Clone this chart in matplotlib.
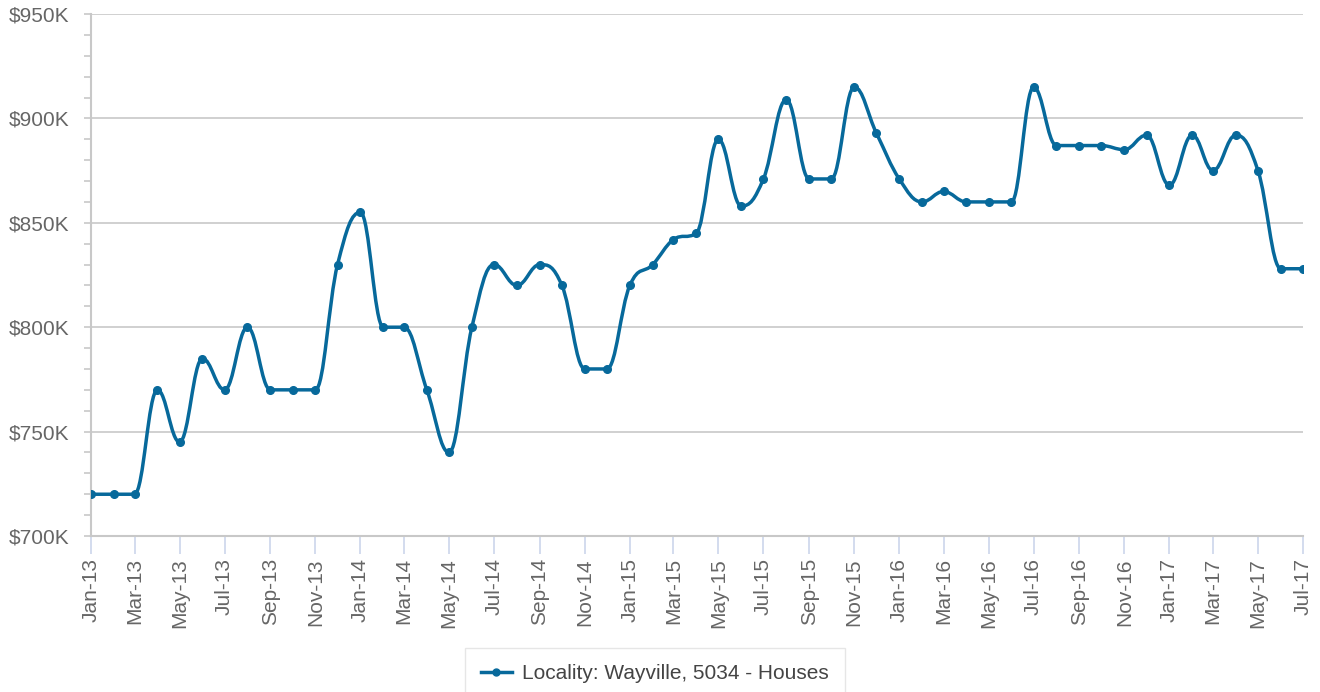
import numpy as np
import matplotlib
matplotlib.use("Agg")
import matplotlib.pyplot as plt
import matplotlib.dates as mdates
from matplotlib.path import Path
from matplotlib.patches import PathPatch
from matplotlib.lines import Line2D
from matplotlib.ticker import FuncFormatter, MultipleLocator
import datetime as dt

# monthly median price, Jan-13 .. Jul-17 (in $K)
start_year, start_month = 2013, 1
prices = [720, 720, 720, 770, 745, 785, 770, 800, 770, 770, 770, 830,
          855, 800, 800, 770, 740, 800, 830, 820, 830, 820, 780, 780,
          820, 830, 842, 845, 890, 858, 871, 909, 871, 871, 915, 893,
          871, 860, 865, 860, 860, 860, 915, 887, 887, 887, 885, 892,
          868, 892, 875, 892, 875, 828, 828]
series_name = "Locality: Wayville, 5034 - Houses"

LINE = "#07699b"
GRID = "#c8c8c8"
TXT = "#666666"
FS = 15


def month_dates(n):
    out = []
    for i in range(n):
        m = start_month - 1 + i
        out.append(dt.date(start_year + m // 12, m % 12 + 1, 1))
    return out


def spline_path(xs, ys, smoothing=1.5):
    # highcharts style spline: cubic bezier with per-point control points
    n = len(xs)
    denom = smoothing + 1
    lc = [None] * n
    rc = [None] * n
    for i in range(1, n - 1):
        px, py = xs[i], ys[i]
        lx, ly = xs[i - 1], ys[i - 1]
        nx, ny = xs[i + 1], ys[i + 1]
        lcx = (smoothing * px + lx) / denom
        lcy = (smoothing * py + ly) / denom
        rcx = (smoothing * px + nx) / denom
        rcy = (smoothing * py + ny) / denom
        corr = 0
        if rcx != lcx:
            corr = (rcy - lcy) * (rcx - px) / (rcx - lcx) + py - rcy
        lcy += corr
        rcy += corr
        if lcy > ly and lcy > py:
            lcy = max(ly, py)
            rcy = 2 * py - lcy
        elif lcy < ly and lcy < py:
            lcy = min(ly, py)
            rcy = 2 * py - lcy
        if rcy > ny and rcy > py:
            rcy = max(ny, py)
            lcy = 2 * py - rcy
        elif rcy < ny and rcy < py:
            rcy = min(ny, py)
            lcy = 2 * py - rcy
        lc[i] = (lcx, lcy)
        rc[i] = (rcx, rcy)
    verts = [(xs[0], ys[0])]
    codes = [Path.MOVETO]
    for i in range(1, n):
        c1 = rc[i - 1] if rc[i - 1] is not None else (xs[i - 1], ys[i - 1])
        c2 = lc[i] if lc[i] is not None else (xs[i], ys[i])
        verts += [c1, c2, (xs[i], ys[i])]
        codes += [Path.CURVE4] * 3
    return Path(verts, codes)


dates = month_dates(len(prices))
xnum = mdates.date2num(dates)

plt.rcParams['font.family'] = ['Liberation Sans', 'DejaVu Sans']

fig = plt.figure(figsize=(13.2, 6.92), dpi=100)
ax = fig.add_axes([91 / 1320, 1 - 536 / 692, (1303 - 91) / 1320, (536 - 14) / 692])

ax.set_xlim(xnum[0], xnum[-1])
ax.set_ylim(700, 950)

# line + markers
patch = PathPatch(spline_path(list(xnum), prices), facecolor="none", edgecolor=LINE,
                  lw=2.5, zorder=3, capstyle="round", joinstyle="round")
ax.add_patch(patch)
ax.plot(xnum, prices, linestyle="none", marker="o", ms=5.5, color=LINE, zorder=4)

# y axis
ax.yaxis.set_major_locator(MultipleLocator(50))
ax.yaxis.set_minor_locator(MultipleLocator(10))
ax.yaxis.set_major_formatter(FuncFormatter(lambda v, p: f"${v:.0f}K"))
ax.grid(axis="y", which="major", color=GRID, lw=1.2)
ax.tick_params(axis="y", which="major", length=5, width=1.2, color=GRID,
               labelsize=FS, labelcolor=TXT, pad=10.5)
ax.tick_params(axis="y", which="minor", length=5, width=1.2, color=GRID)

# x axis: every second month
tick_dates = dates[::2]
ax.set_xticks(mdates.date2num(tick_dates))
ax.set_xticklabels([d.strftime("%b-%y") for d in tick_dates], rotation=90)
ax.tick_params(axis="x", length=13, width=1.2, color="#ccd6eb",
               labelsize=FS, labelcolor=TXT, pad=3)

for s in ["top", "right"]:
    ax.spines[s].set_visible(False)
ax.spines["left"].set_color(GRID)
ax.spines["left"].set_linewidth(1.5)
ax.spines["bottom"].set_color(GRID)
ax.spines["bottom"].set_linewidth(1.5)
ax.set_axisbelow(True)

# legend
handle = Line2D([], [], color=LINE, lw=2.5, marker="o", ms=5)
leg = fig.legend([handle], [series_name], loc="upper center",
                 bbox_to_anchor=(655 / 1320, 1 - 644 / 692), frameon=True,
                 fontsize=FS, handlelength=1.5, handletextpad=0.5,
                 borderpad=0.75, borderaxespad=0.2, fancybox=False)
leg.get_frame().set_edgecolor("#e0e0e0")
for t in leg.get_texts():
    t.set_color("#444444")

fig.savefig("out.png", dpi=100)
